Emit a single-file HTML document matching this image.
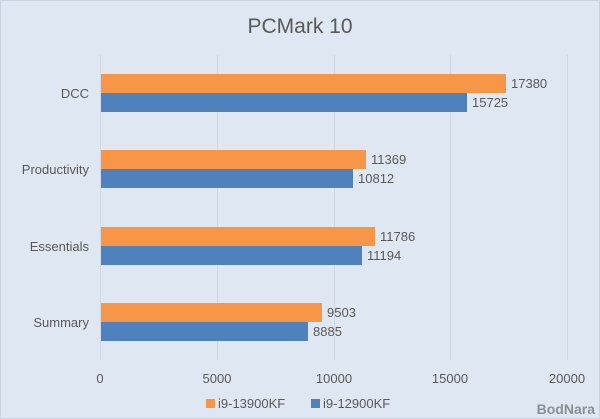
<!DOCTYPE html>
<html><head><meta charset="utf-8"><style>
html,body{margin:0;padding:0;background:#dfe7f2;}
svg{display:block;font-family:"Liberation Sans",sans-serif;}
</style></head><body>
<svg width="600" height="419" viewBox="0 0 600 419" xmlns="http://www.w3.org/2000/svg">
<rect x="0" y="0" width="600" height="419" fill="#dfe7f2"/>
<rect x="0.5" y="0.5" width="599" height="418" fill="none" stroke="#c9d2de"/>
<text x="300" y="33" font-size="21" fill="#595959" text-anchor="middle">PCMark 10</text>
<g stroke="#cfd8e4" stroke-width="1">
<line x1="100.5" y1="55" x2="100.5" y2="360"/>
<line x1="217.5" y1="55" x2="217.5" y2="360"/>
<line x1="334.5" y1="55" x2="334.5" y2="360"/>
<line x1="450.5" y1="55" x2="450.5" y2="360"/>
<line x1="567.5" y1="55" x2="567.5" y2="360"/>
</g>
<g font-size="13" fill="#595959">
<rect x="101" y="74" width="405" height="19" fill="#f79646"/>
<rect x="101" y="93" width="366" height="19" fill="#4f81bd"/>
<text x="511" y="88">17380</text><text x="472" y="107">15725</text>
<rect x="101" y="150" width="265" height="19" fill="#f79646"/>
<rect x="101" y="169" width="252" height="19" fill="#4f81bd"/>
<text x="371" y="164">11369</text><text x="358" y="183">10812</text>
<rect x="101" y="227" width="274" height="19" fill="#f79646"/>
<rect x="101" y="246" width="261" height="19" fill="#4f81bd"/>
<text x="380" y="241">11786</text><text x="367" y="260">11194</text>
<rect x="101" y="303" width="221" height="19" fill="#f79646"/>
<rect x="101" y="322" width="207" height="19" fill="#4f81bd"/>
<text x="327" y="317">9503</text><text x="313" y="336">8885</text>
</g>
<g font-size="13" fill="#595959" text-anchor="end">
<text x="89" y="98">DCC</text>
<text x="89" y="174">Productivity</text>
<text x="89" y="251">Essentials</text>
<text x="89" y="327">Summary</text>
</g>
<g font-size="13" fill="#595959" text-anchor="middle">
<text x="100" y="383">0</text>
<text x="217" y="383">5000</text>
<text x="334" y="383">10000</text>
<text x="450" y="383">15000</text>
<text x="567" y="383">20000</text>
</g>
<rect x="206" y="399" width="9" height="9" fill="#f79646"/>
<text x="218" y="408" font-size="13" fill="#595959">i9-13900KF</text>
<rect x="311" y="399" width="9" height="9" fill="#4f81bd"/>
<text x="323" y="408" font-size="13" fill="#595959">i9-12900KF</text>
<text x="595" y="414" font-size="14" font-weight="bold" fill="#8a8f96" text-anchor="end">BodNara</text>
</svg>
</body></html>
